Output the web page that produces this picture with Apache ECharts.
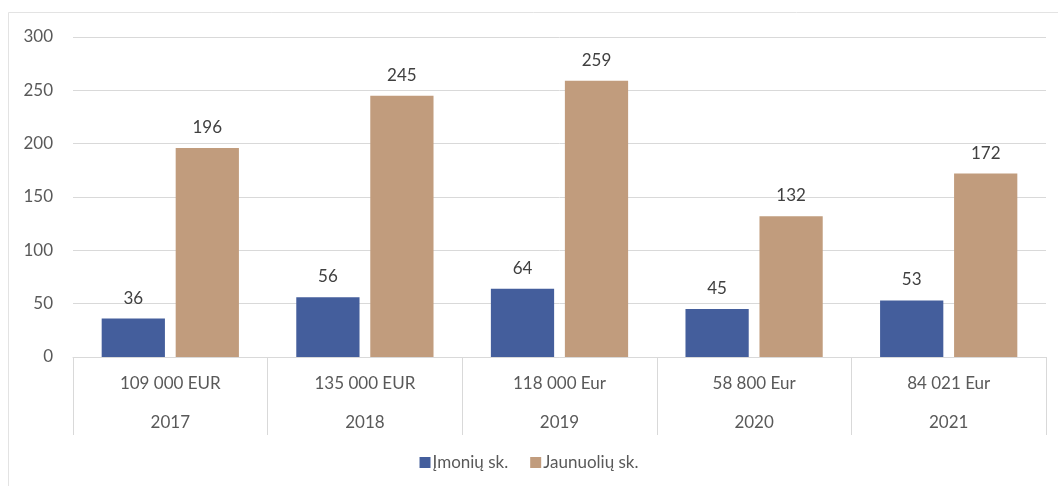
<!DOCTYPE html>
<html>
<head>
<meta charset="utf-8">
<script src="https://cdn.jsdelivr.net/npm/echarts@6/dist/echarts.min.js"></script>
<style>
  html, body { margin: 0; padding: 0; background: #fff; }
  #chart { width: 1058px; height: 486px; }
</style>
</head>
<body>
<div id="chart"></div>
<script>
  // duomenys
  const years = ['2017', '2018', '2019', '2020', '2021'];
  const amounts = ['109 000 EUR', '135 000 EUR', '118 000 Eur', '58 800 Eur', '84 021 Eur'];
  const imoniu = [36, 56, 64, 45, 53];
  const jaunuoliu = [196, 245, 259, 132, 172];

  const font = 'Lato, "Open Sans", sans-serif';
  let chart = echarts.init(document.getElementById('chart'));

  chart.setOption({
    textStyle: { fontFamily: font },
    graphic: [{
      type: 'rect',
      shape: { x: 8.5, y: 12.5, width: 1060, height: 480 },
      style: { fill: 'none', stroke: '#e3e3e3', lineWidth: 1 },
      silent: true
    }],
    grid: { left: 73, right: 12, top: 37, bottom: 129 },
    legend: {
      bottom: 10,
      left: 'center',
      icon: 'rect',
      itemWidth: 11,
      itemHeight: 11,
      itemGap: 22,
      textStyle: { fontSize: 17, color: '#595959', fontFamily: font, padding: [0, 0, 0, -3] },
      data: ['Įmonių sk.', 'Jaunuolių sk.']
    },
    xAxis: [
      {
        type: 'category',
        data: amounts,
        position: 'bottom',
        axisLine: { lineStyle: { color: '#d9d9d9' } },
        axisTick: { show: true, length: 78, lineStyle: { color: '#d9d9d9' } },
        axisLabel: { fontSize: 17, color: '#595959', margin: 18, fontFamily: font }
      },
      {
        type: 'category',
        data: years,
        position: 'bottom',
        offset: 39,
        axisLine: { show: false },
        axisTick: { show: false },
        axisLabel: { fontSize: 17, color: '#595959', margin: 18, fontFamily: font }
      }
    ],
    yAxis: {
      type: 'value',
      min: 0,
      max: 300,
      interval: 50,
      axisLine: { show: false },
      axisTick: { show: false },
      axisLabel: { fontSize: 17, color: '#595959', margin: 20, fontFamily: font },
      splitLine: { lineStyle: { color: '#d9d9d9' } }
    },
    series: [
      {
        name: 'Įmonių sk.',
        type: 'bar',
        data: imoniu,
        barWidth: '32.5%',
        barGap: '17%',
        itemStyle: { color: '#445e9c' },
        label: { show: true, position: 'top', distance: 12, fontSize: 17, color: '#404040', fontFamily: font }
      },
      {
        name: 'Jaunuolių sk.',
        type: 'bar',
        data: jaunuoliu,
        barWidth: '32.5%',
        itemStyle: { color: '#c19c7d' },
        label: { show: true, position: 'top', distance: 12, fontSize: 17, color: '#404040', fontFamily: font }
      }
    ]
  });
</script>
</body>
</html>
